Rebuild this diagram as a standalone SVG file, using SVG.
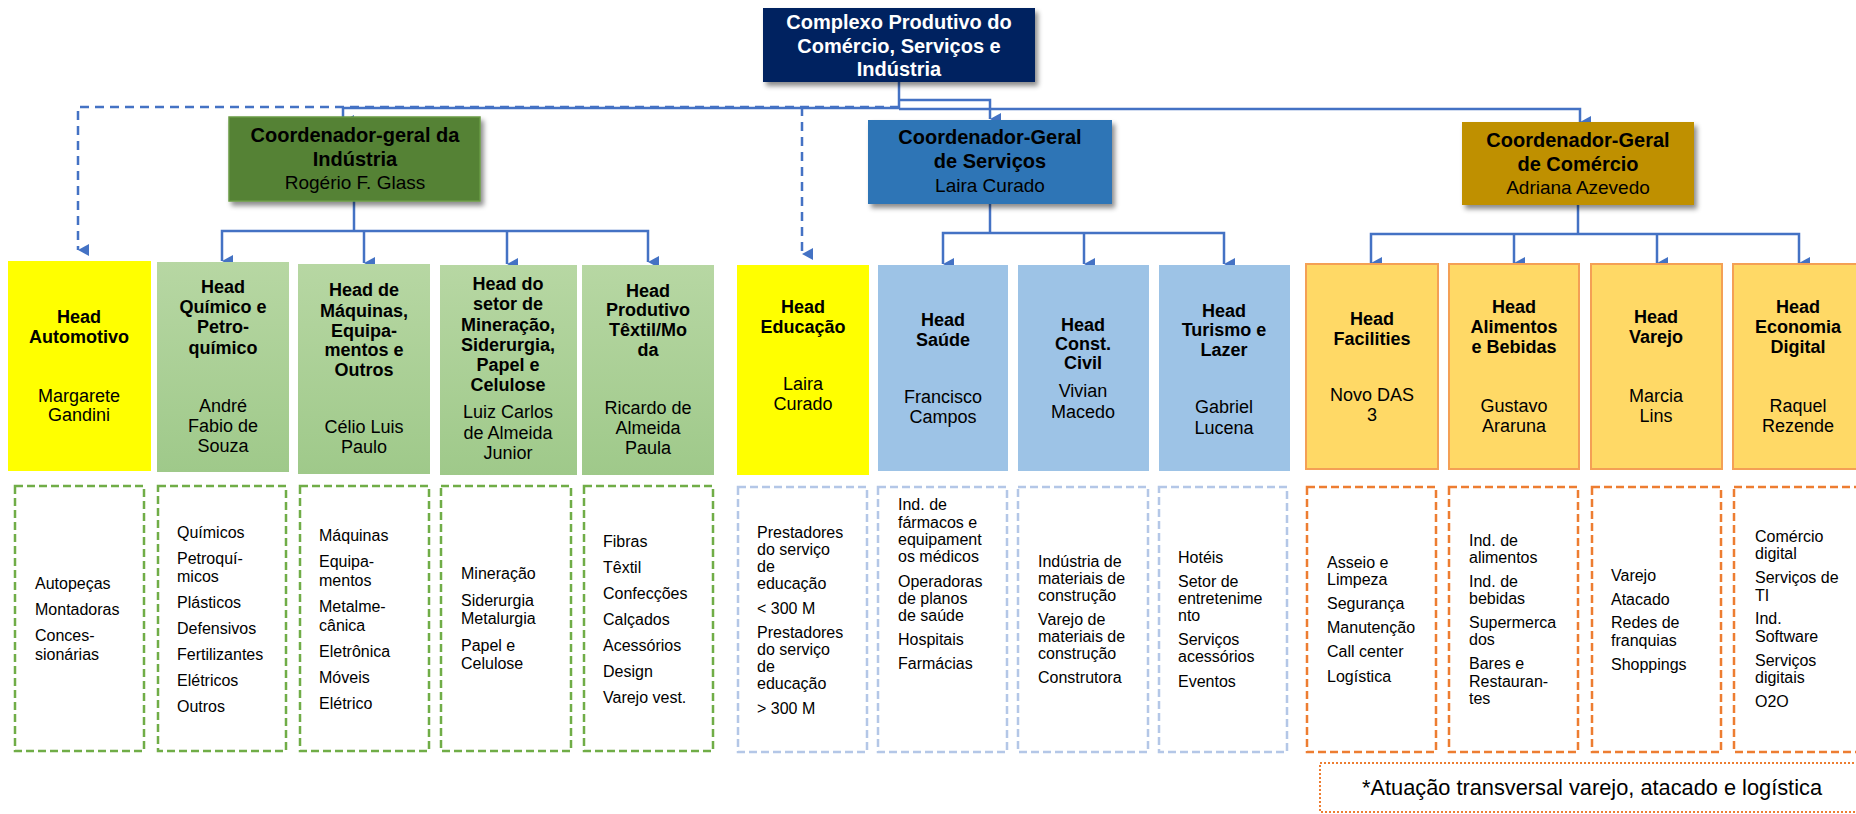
<svg xmlns="http://www.w3.org/2000/svg" width="1856" height="814" viewBox="0 0 1856 814">
<style>
text{font-family:"Liberation Sans",Arial,sans-serif;fill:#000}
.root{font-size:20px;font-weight:bold;fill:#fff;text-anchor:middle}
.cb{font-size:20px;font-weight:bold;text-anchor:middle}
.cn{font-size:19px;text-anchor:middle}
.hb{font-size:18px;font-weight:bold;text-anchor:middle}
.hn{font-size:18px;text-anchor:middle}
.d{font-size:16px}
.conn{fill:none;stroke:#4472C4;stroke-width:2.5}
.dash{stroke-dasharray:9 6}
.yel{fill:#FFFF00}
.grn{fill:url(#gg)}
.blu{fill:#9DC3E6}
.org{fill:#FFD966;stroke:#F4A055;stroke-width:2}
.dg{fill:#fff;stroke:#70AD47;stroke-width:2.5;stroke-dasharray:8 4}
.db{fill:#fff;stroke:#B4C7E7;stroke-width:2.5;stroke-dasharray:8 4}
.do{fill:#fff;stroke:#ED7D31;stroke-width:2.5;stroke-dasharray:8 4}
</style>
<defs>
<linearGradient id="gg" x1="0" y1="0" x2="0" y2="1">
<stop offset="0" stop-color="#B7D7A3"/>
<stop offset="1" stop-color="#9FC98A"/>
</linearGradient>
<filter id="sh" x="-10%" y="-10%" width="130%" height="140%">
<feDropShadow dx="3" dy="4" stdDeviation="2.5" flood-color="#000" flood-opacity="0.45"/>
</filter>
<marker id="ar" viewBox="0 0 12 11" refX="6" refY="11" markerWidth="12" markerHeight="11" markerUnits="userSpaceOnUse" orient="auto-start-reverse">
<path d="M0,0 L12,0 L6,11 Z" fill="#4472C4"/>
</marker>
</defs>
<rect width="1856" height="814" fill="#fff"/>

<g id="connectors">
<path class="conn dash" d="M899,107 H78 V250" marker-end="url(#ar)"/>
<path class="conn dash" d="M802,107 V254" marker-end="url(#ar)"/>
<path class="conn" d="M899,82 V109"/>
<path class="conn" d="M899,108 H343 V121" marker-end="url(#ar)"/>
<path class="conn" d="M899,100 H990 V119" marker-end="url(#ar)"/>
<path class="conn" d="M899,109 H1580 V122" marker-end="url(#ar)"/>
<path class="conn" d="M354,201 V231"/>
<path class="conn" d="M222,261 V231 H648 V262" marker-start="url(#ar)" marker-end="url(#ar)"/>
<path class="conn" d="M364,231 V263" marker-end="url(#ar)"/>
<path class="conn" d="M507,231 V264" marker-end="url(#ar)"/>
<path class="conn" d="M990,204 V233"/>
<path class="conn" d="M943,264 V233 H1224 V264" marker-start="url(#ar)" marker-end="url(#ar)"/>
<path class="conn" d="M1084,233 V264" marker-end="url(#ar)"/>
<path class="conn" d="M1578,205 V234"/>
<path class="conn" d="M1371,263 V234 H1799 V263" marker-start="url(#ar)" marker-end="url(#ar)"/>
<path class="conn" d="M1514,234 V263" marker-end="url(#ar)"/>
<path class="conn" d="M1657,234 V263" marker-end="url(#ar)"/>
</g>

<g id="root">
<rect x="763" y="8" width="272" height="74" fill="#002060" filter="url(#sh)"/>
<text class="root" x="899" y="29">Complexo Produtivo do</text>
<text class="root" x="899" y="53">Comércio, Serviços e</text>
<text class="root" x="899" y="76">Indústria</text>
</g>

<g id="coord-industria">
<rect x="229" y="117" width="251" height="84" fill="#548235" stroke="#6A9A45" stroke-width="1.5" filter="url(#sh)"/>
<text class="cb" x="355" y="142">Coordenador-geral da</text>
<text class="cb" x="355" y="166">Indústria</text>
<text class="cn" x="355" y="189">Rogério F. Glass</text>
</g>
<g id="coord-servicos">
<rect x="868" y="120" width="244" height="84" fill="#2E75B6" filter="url(#sh)"/>
<text class="cb" x="990" y="144">Coordenador-Geral</text>
<text class="cb" x="990" y="168">de Serviços</text>
<text class="cn" x="990" y="192">Laira Curado</text>
</g>
<g id="coord-comercio">
<rect x="1462" y="122" width="232" height="83" fill="#BF9000" filter="url(#sh)"/>
<text class="cb" x="1578" y="147">Coordenador-Geral</text>
<text class="cb" x="1578" y="171">de Comércio</text>
<text class="cn" x="1578" y="194">Adriana Azevedo</text>
</g>

<g id="head-automotivo">
<rect class="yel" x="8" y="261" width="143" height="210"/>
<text class="hb" x="79" y="323">Head</text>
<text class="hb" x="79" y="343">Automotivo</text>
<text class="hn" x="79" y="402">Margarete</text>
<text class="hn" x="79" y="421">Gandini</text>
</g>
<g id="head-quimico">
<rect class="grn" x="157" y="262" width="132" height="210"/>
<text class="hb" x="223" y="293">Head</text>
<text class="hb" x="223" y="313">Químico e</text>
<text class="hb" x="223" y="333">Petro-</text>
<text class="hb" x="223" y="354">químico</text>
<text class="hn" x="223" y="412">André</text>
<text class="hn" x="223" y="432">Fabio de</text>
<text class="hn" x="223" y="452">Souza</text>
</g>
<g id="head-maquinas">
<rect class="grn" x="298" y="264" width="132" height="210"/>
<text class="hb" x="364" y="296">Head de</text>
<text class="hb" x="364" y="317">Máquinas,</text>
<text class="hb" x="364" y="337">Equipa-</text>
<text class="hb" x="364" y="356">mentos e</text>
<text class="hb" x="364" y="376">Outros</text>
<text class="hn" x="364" y="433">Célio Luis</text>
<text class="hn" x="364" y="453">Paulo</text>
</g>
<g id="head-mineracao">
<rect class="grn" x="440" y="265" width="137" height="210"/>
<text class="hb" x="508" y="290">Head do</text>
<text class="hb" x="508" y="310">setor de</text>
<text class="hb" x="508" y="331">Mineração,</text>
<text class="hb" x="508" y="351">Siderurgia,</text>
<text class="hb" x="508" y="371">Papel e</text>
<text class="hb" x="508" y="391">Celulose</text>
<text class="hn" x="508" y="418">Luiz Carlos</text>
<text class="hn" x="508" y="439">de Almeida</text>
<text class="hn" x="508" y="459">Junior</text>
</g>
<g id="head-textil">
<rect class="grn" x="582" y="265" width="132" height="210"/>
<text class="hb" x="648" y="297">Head</text>
<text class="hb" x="648" y="316">Produtivo</text>
<text class="hb" x="648" y="336">Têxtil/Mo</text>
<text class="hb" x="648" y="356">da</text>
<text class="hn" x="648" y="414">Ricardo de</text>
<text class="hn" x="648" y="434">Almeida</text>
<text class="hn" x="648" y="454">Paula</text>
</g>
<g id="head-educacao">
<rect class="yel" x="737" y="265" width="132" height="210"/>
<text class="hb" x="803" y="313">Head</text>
<text class="hb" x="803" y="333">Educação</text>
<text class="hn" x="803" y="390">Laira</text>
<text class="hn" x="803" y="410">Curado</text>
</g>
<g id="head-saude">
<rect class="blu" x="878" y="265" width="130" height="206"/>
<text class="hb" x="943" y="326">Head</text>
<text class="hb" x="943" y="346">Saúde</text>
<text class="hn" x="943" y="403">Francisco</text>
<text class="hn" x="943" y="423">Campos</text>
</g>
<g id="head-construcao">
<rect class="blu" x="1018" y="265" width="131" height="206"/>
<text class="hb" x="1083" y="331">Head</text>
<text class="hb" x="1083" y="350">Const.</text>
<text class="hb" x="1083" y="369">Civil</text>
<text class="hn" x="1083" y="397">Vivian</text>
<text class="hn" x="1083" y="418">Macedo</text>
</g>
<g id="head-turismo">
<rect class="blu" x="1159" y="265" width="131" height="206"/>
<text class="hb" x="1224" y="317">Head</text>
<text class="hb" x="1224" y="336">Turismo e</text>
<text class="hb" x="1224" y="356">Lazer</text>
<text class="hn" x="1224" y="413">Gabriel</text>
<text class="hn" x="1224" y="434">Lucena</text>
</g>
<g id="head-facilities">
<rect class="org" x="1306" y="264" width="132" height="205"/>
<text class="hb" x="1372" y="325">Head</text>
<text class="hb" x="1372" y="345">Facilities</text>
<text class="hn" x="1372" y="401">Novo DAS</text>
<text class="hn" x="1372" y="421">3</text>
</g>
<g id="head-alimentos">
<rect class="org" x="1449" y="264" width="130" height="205"/>
<text class="hb" x="1514" y="313">Head</text>
<text class="hb" x="1514" y="333">Alimentos</text>
<text class="hb" x="1514" y="353">e Bebidas</text>
<text class="hn" x="1514" y="412">Gustavo</text>
<text class="hn" x="1514" y="432">Araruna</text>
</g>
<g id="head-varejo">
<rect class="org" x="1591" y="264" width="131" height="205"/>
<text class="hb" x="1656" y="323">Head</text>
<text class="hb" x="1656" y="343">Varejo</text>
<text class="hn" x="1656" y="402">Marcia</text>
<text class="hn" x="1656" y="422">Lins</text>
</g>
<g id="head-economia-digital">
<rect class="org" x="1733" y="264" width="132" height="205"/>
<text class="hb" x="1798" y="313">Head</text>
<text class="hb" x="1798" y="333">Economia</text>
<text class="hb" x="1798" y="353">Digital</text>
<text class="hn" x="1798" y="412">Raquel</text>
<text class="hn" x="1798" y="432">Rezende</text>
</g>

<g id="det-automotivo">
<rect class="dg" x="15" y="486" width="129" height="265"/>
<text class="d" x="35" y="589">Autopeças</text>
<text class="d" x="35" y="615">Montadoras</text>
<text class="d" x="35" y="641">Conces-</text>
<text class="d" x="35" y="660">sionárias</text>
</g>
<g id="det-quimico">
<rect class="dg" x="158" y="486" width="128" height="265"/>
<text class="d" x="177" y="538">Químicos</text>
<text class="d" x="177" y="564">Petroquí-</text>
<text class="d" x="177" y="582">micos</text>
<text class="d" x="177" y="608">Plásticos</text>
<text class="d" x="177" y="634">Defensivos</text>
<text class="d" x="177" y="660">Fertilizantes</text>
<text class="d" x="177" y="686">Elétricos</text>
<text class="d" x="177" y="712">Outros</text>
</g>
<g id="det-maquinas">
<rect class="dg" x="300" y="486" width="129" height="265"/>
<text class="d" x="319" y="541">Máquinas</text>
<text class="d" x="319" y="567">Equipa-</text>
<text class="d" x="319" y="586">mentos</text>
<text class="d" x="319" y="612">Metalme-</text>
<text class="d" x="319" y="631">cânica</text>
<text class="d" x="319" y="657">Eletrônica</text>
<text class="d" x="319" y="683">Móveis</text>
<text class="d" x="319" y="709">Elétrico</text>
</g>
<g id="det-mineracao">
<rect class="dg" x="441" y="486" width="130" height="265"/>
<text class="d" x="461" y="579">Mineração</text>
<text class="d" x="461" y="606">Siderurgia</text>
<text class="d" x="461" y="624">Metalurgia</text>
<text class="d" x="461" y="651">Papel e</text>
<text class="d" x="461" y="669">Celulose</text>
</g>
<g id="det-textil">
<rect class="dg" x="584" y="486" width="129" height="265"/>
<text class="d" x="603" y="547">Fibras</text>
<text class="d" x="603" y="573">Têxtil</text>
<text class="d" x="603" y="599">Confecções</text>
<text class="d" x="603" y="625">Calçados</text>
<text class="d" x="603" y="651">Acessórios</text>
<text class="d" x="603" y="677">Design</text>
<text class="d" x="603" y="703">Varejo vest.</text>
</g>
<g id="det-educacao">
<rect class="db" x="738" y="487" width="129" height="265"/>
<text class="d" x="757" y="538">Prestadores</text>
<text class="d" x="757" y="555">do serviço</text>
<text class="d" x="757" y="572">de</text>
<text class="d" x="757" y="589">educação</text>
<text class="d" x="757" y="614">&lt; 300 M</text>
<text class="d" x="757" y="638">Prestadores</text>
<text class="d" x="757" y="655">do serviço</text>
<text class="d" x="757" y="672">de</text>
<text class="d" x="757" y="689">educação</text>
<text class="d" x="757" y="714">&gt; 300 M</text>
</g>
<g id="det-saude">
<rect class="db" x="878" y="487" width="129" height="265"/>
<text class="d" x="898" y="510">Ind. de</text>
<text class="d" x="898" y="528">fármacos e</text>
<text class="d" x="898" y="545">equipament</text>
<text class="d" x="898" y="562">os médicos</text>
<text class="d" x="898" y="587">Operadoras</text>
<text class="d" x="898" y="604">de planos</text>
<text class="d" x="898" y="621">de saúde</text>
<text class="d" x="898" y="645">Hospitais</text>
<text class="d" x="898" y="669">Farmácias</text>
</g>
<g id="det-construcao">
<rect class="db" x="1018" y="487" width="130" height="265"/>
<text class="d" x="1038" y="567">Indústria de</text>
<text class="d" x="1038" y="584">materiais de</text>
<text class="d" x="1038" y="601">construção</text>
<text class="d" x="1038" y="625">Varejo de</text>
<text class="d" x="1038" y="642">materiais de</text>
<text class="d" x="1038" y="659">construção</text>
<text class="d" x="1038" y="683">Construtora</text>
</g>
<g id="det-turismo">
<rect class="db" x="1159" y="487" width="128" height="265"/>
<text class="d" x="1178" y="563">Hotéis</text>
<text class="d" x="1178" y="587">Setor de</text>
<text class="d" x="1178" y="604">entretenime</text>
<text class="d" x="1178" y="621">nto</text>
<text class="d" x="1178" y="645">Serviços</text>
<text class="d" x="1178" y="662">acessórios</text>
<text class="d" x="1178" y="687">Eventos</text>
</g>
<g id="det-facilities">
<rect class="do" x="1307" y="487" width="129" height="265"/>
<text class="d" x="1327" y="568">Asseio e</text>
<text class="d" x="1327" y="585">Limpeza</text>
<text class="d" x="1327" y="609">Segurança</text>
<text class="d" x="1327" y="633">Manutenção</text>
<text class="d" x="1327" y="657">Call center</text>
<text class="d" x="1327" y="682">Logística</text>
</g>
<g id="det-alimentos">
<rect class="do" x="1449" y="487" width="129" height="265"/>
<text class="d" x="1469" y="546">Ind. de</text>
<text class="d" x="1469" y="563">alimentos</text>
<text class="d" x="1469" y="587">Ind. de</text>
<text class="d" x="1469" y="604">bebidas</text>
<text class="d" x="1469" y="628">Supermerca</text>
<text class="d" x="1469" y="645">dos</text>
<text class="d" x="1469" y="669">Bares e</text>
<text class="d" x="1469" y="687">Restauran-</text>
<text class="d" x="1469" y="704">tes</text>
</g>
<g id="det-varejo">
<rect class="do" x="1592" y="487" width="129" height="265"/>
<text class="d" x="1611" y="581">Varejo</text>
<text class="d" x="1611" y="605">Atacado</text>
<text class="d" x="1611" y="628">Redes de</text>
<text class="d" x="1611" y="646">franquias</text>
<text class="d" x="1611" y="670">Shoppings</text>
</g>
<g id="det-economia-digital">
<rect class="do" x="1734" y="487" width="130" height="265"/>
<text class="d" x="1755" y="542">Comércio</text>
<text class="d" x="1755" y="559">digital</text>
<text class="d" x="1755" y="583">Serviços de</text>
<text class="d" x="1755" y="601">TI</text>
<text class="d" x="1755" y="624">Ind.</text>
<text class="d" x="1755" y="642">Software</text>
<text class="d" x="1755" y="666">Serviços</text>
<text class="d" x="1755" y="683">digitais</text>
<text class="d" x="1755" y="707">O2O</text>
</g>

<g id="note">
<rect x="1320" y="763" width="545" height="49" fill="#fff" stroke="#ED7D31" stroke-width="2" stroke-dasharray="2 2"/>
<text x="1362" y="795" font-family="Lato, 'Open Sans', sans-serif" font-size="22" textLength="460" lengthAdjust="spacingAndGlyphs">*Atuação transversal varejo, atacado e logística</text>
</g>
</svg>
